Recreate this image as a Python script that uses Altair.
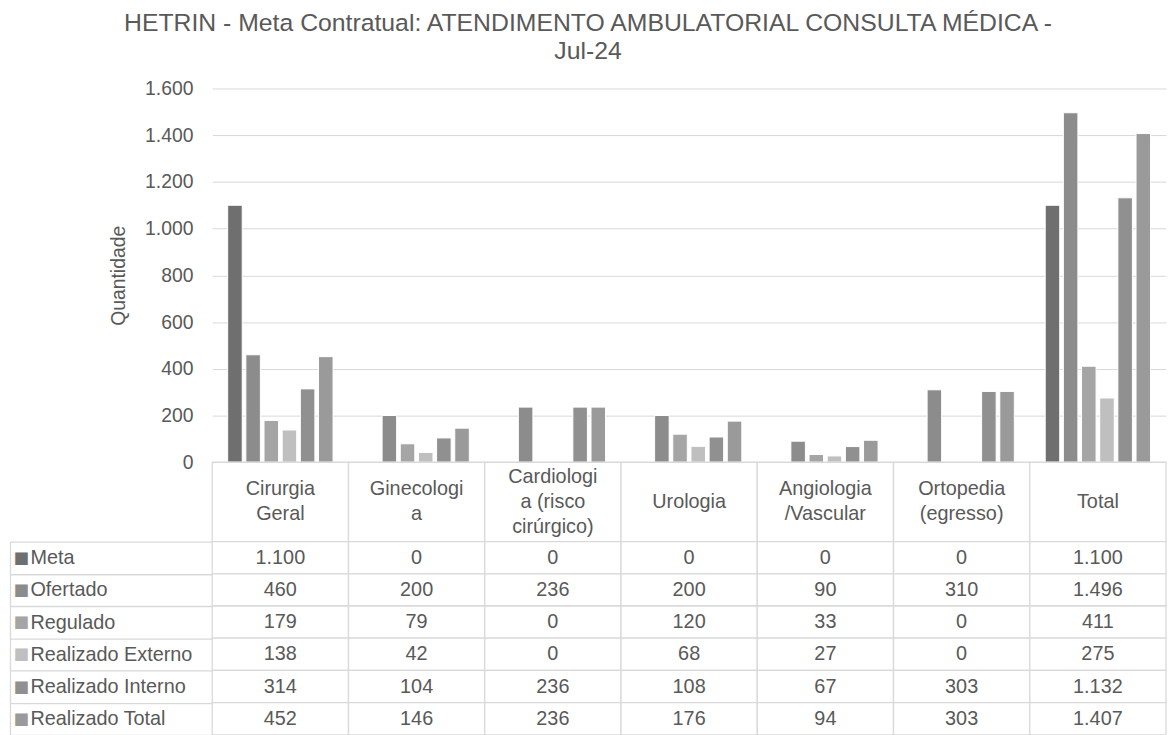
import altair as alt
import pandas as pd

# ---- data -------------------------------------------------------------
categories = [
    "Cirurgia\nGeral",
    "Ginecologi\na",
    "Cardiologi\na (risco\ncirúrgico)",
    "Urologia",
    "Angiologia\n/Vascular",
    "Ortopedia\n(egresso)",
    "Total",
]
series = ["Meta", "Ofertado", "Regulado", "Realizado Externo", "Realizado Interno", "Realizado Total"]
colors = ["#6f6f6f", "#8c8c8c", "#a5a5a5", "#bfbfbf", "#909090", "#9a9a9a"]

meta = [1100, 0, 0, 0, 0, 0, 1100]
ofertado = [460, 200, 236, 200, 90, 310, 1496]
regulado = [179, 79, 0, 120, 33, 0, 411]
realizado_externo = [138, 42, 0, 68, 27, 0, 275]
realizado_interno = [314, 104, 236, 108, 67, 303, 1132]
realizado_total = [452, 146, 236, 176, 94, 303, 1407]

y_ticks = [0, 200, 400, 600, 800, 1000, 1200, 1400, 1600]
title_lines = ["HETRIN - Meta Contratual: ATENDIMENTO AMBULATORIAL CONSULTA MÉDICA -", "Jul-24"]

rows = []
for s, vals in zip(series, [meta, ofertado, regulado, realizado_externo, realizado_interno, realizado_total]):
    for c, v in zip(categories, vals):
        rows.append({"categoria": c, "serie": s, "valor": v})
df = pd.DataFrame(rows)
cat_df = pd.DataFrame({"categoria": categories})

# ---- style ------------------------------------------------------------
TXT = "#595959"
GRID = "#d9d9d9"
FONT = "Liberation Sans"
FS = 20
dot_fmt = "replace(format({}, ','), ',', '.')"

x_scale = alt.Scale(paddingInner=0, paddingOuter=0)

# ---- bar chart --------------------------------------------------------
bars = alt.Chart(df).transform_filter("datum.valor > 0").mark_bar(stroke="white", strokeWidth=1).encode(
    x=alt.X("categoria:N", sort=categories, scale=alt.Scale(domain=categories, paddingInner=0, paddingOuter=0),
            axis=None),
    xOffset=alt.XOffset("serie:N", sort=series,
                        scale=alt.Scale(domain=series, paddingInner=0.2, paddingOuter=0.85)),
    y=alt.Y(
        "valor:Q", scale=alt.Scale(domain=[0, 1600], nice=False),
        axis=alt.Axis(
            title="Quantidade", values=y_ticks, labelExpr=dot_fmt.format("datum.value"),
            ticks=False, domain=False, gridColor=GRID, gridWidth=1,
            labelFontSize=19.5, labelColor=TXT, labelFont=FONT, labelPadding=19.5,
            titleFontSize=19.5, titleColor=TXT, titleFont=FONT, titleFontWeight="normal",
            titleX=-94, titleY=188.5, titleAngle=270, titleAlign="center", titleBaseline="middle",
        ),
    ),
    color=alt.Color("serie:N", sort=series, scale=alt.Scale(domain=series, range=colors), legend=None),
).properties(width=962, height=377)

# ---- header row of the data table (category names) ---------------------
head_cells = alt.Chart(cat_df).mark_rect(fill="white", stroke=GRID, strokeWidth=1.3).encode(
    x=alt.X("categoria:N", sort=categories, scale=x_scale, axis=None),
)
head_text = alt.Chart(cat_df).transform_calculate(
    lines="split(datum.categoria, '\\n')",
    nl="length(split(datum.categoria, '\\n'))",
).mark_text(fontSize=FS, color=TXT, font=FONT, baseline="middle", lineHeight=25).encode(
    x=alt.X("categoria:N", sort=categories, scale=x_scale, axis=None),
    y=alt.Y("nl:Q", scale=alt.Scale(domain=[1, 3], range=[40, 15]), axis=None),
    text="lines:N",
)
header = alt.layer(head_cells, head_text).properties(width=962, height=80)

# ---- data table -------------------------------------------------------
y_tab = dict(field="serie", type="nominal", sort=series, scale=alt.Scale(paddingInner=0, paddingOuter=0))

square_color = {
    "condition": [{"test": f"datum.value === '{s}'", "value": c} for s, c in zip(series, colors)],
    "value": TXT,
}

cells = alt.Chart(df).mark_rect(fill="white", stroke=GRID, strokeWidth=1.3).encode(
    x=alt.X("categoria:N", sort=categories, scale=x_scale, axis=None),
    y=alt.Y(**y_tab, axis=alt.Axis(
        orient="left", title=None, domain=False, grid=False,
        tickBand="extent", tickSize=204, tickColor=GRID, tickWidth=1.3,
        labelAlign="left", labelBaseline="middle", labelPadding=-20.1,
        labelFontSize=FS, labelColor=TXT, labelFont=FONT, labelLimit=300,
    )),
)

texts = alt.Chart(df).transform_calculate(
    txt=dot_fmt.format("datum.valor")
).mark_text(fontSize=FS, color=TXT, font=FONT, baseline="middle").encode(
    x=alt.X("categoria:N", sort=categories, scale=x_scale, axis=None),
    y=alt.Y(**y_tab, axis=alt.Axis(
        orient="left", title=None, offset=204, domain=True, domainColor=GRID, domainWidth=1.3,
        ticks=False, grid=False, labelExpr="'■'", labelColor=square_color,
        labelAlign="left", labelBaseline="middle", labelPadding=-3.4,
        labelFontSize=16.5, labelFont="DejaVu Sans",
    )),
    text="txt:N",
)

table = alt.layer(cells, texts).resolve_axis(y="independent").properties(width=962, height=195)

chart = alt.vconcat(bars, header, table, spacing=0, bounds="flush").properties(
    title=alt.TitleParams(
        text=title_lines, fontSize=25, font=FONT, color=TXT, fontWeight="normal",
        anchor="middle", lineHeight=28.3, offset=14,
    ),
    padding={"top": 0, "left": 0, "right": 0, "bottom": 0},
    background="white",
).configure_view(stroke="transparent")

chart.save("out.html", embed_options={"renderer": "svg", "actions": False})
